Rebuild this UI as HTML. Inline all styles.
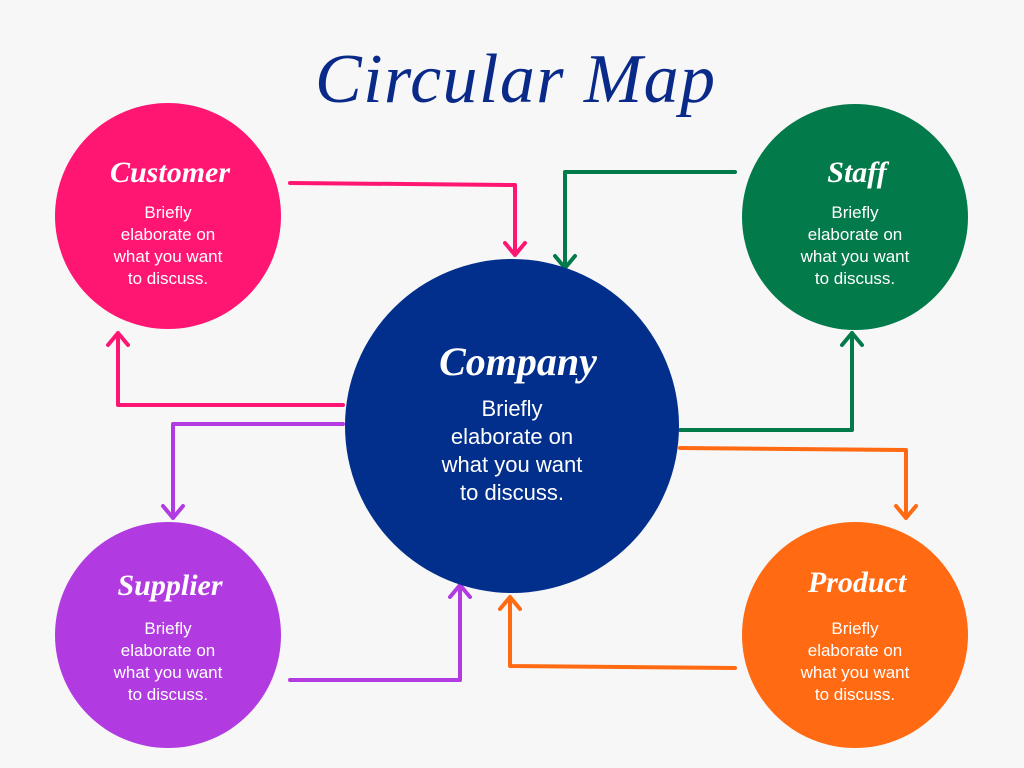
<!DOCTYPE html>
<html><head><style>
body{margin:0;background:#f7f7f7;}
svg{display:block}
.t{font-family:"Liberation Serif",serif;font-style:italic;font-weight:bold;fill:#fff;text-anchor:middle}
.b{font-family:"Liberation Sans",sans-serif;fill:#fff;text-anchor:middle}
</style></head><body>
<svg width="1024" height="768" viewBox="0 0 1024 768">
<rect width="1024" height="768" fill="#f7f7f7"/>
<text x="515" y="102" font-family="Liberation Serif,serif" font-style="italic" font-size="70" fill="#0a2a8a" text-anchor="middle" textLength="400">Circular Map</text>
<g fill="none" stroke-width="4" stroke-linecap="round" stroke-linejoin="round">
<path d="M290 183 L515 185 L515 255 M505 243 L515 255 L525 243" stroke="#ff1672"/>
<path d="M735 172 L565 172 L565 268 M555 256 L565 268 L575 256" stroke="#037a4a"/>
<path d="M343 405 L118 405 L118 333 M108 345 L118 333 L128 345" stroke="#ff1672"/>
<path d="M343 424 L173 424 L173 518 M163 506 L173 518 L183 506" stroke="#b13be0"/>
<path d="M680 430 L852 430 L852 333 M842 345 L852 333 L862 345" stroke="#037a4a"/>
<path d="M680 448 L906 450 L906 518 M896 506 L906 518 L916 506" stroke="#ff6a12"/>
<path d="M290 680 L460 680 L460 585 M450 597 L460 585 L470 597" stroke="#b13be0"/>
<path d="M735 668 L510 666 L510 597 M500 609 L510 597 L520 609" stroke="#ff6a12"/>
</g>
<circle cx="168" cy="216" r="113" fill="#ff1672"/>
<circle cx="855" cy="217" r="113" fill="#037a4a"/>
<circle cx="168" cy="635" r="113" fill="#b13be0"/>
<circle cx="855" cy="635" r="113" fill="#ff6a12"/>
<circle cx="512" cy="426" r="167" fill="#022e8c"/>
<g class="t" font-size="30">
<text x="170" y="182">Customer</text>
<text x="857" y="182">Staff</text>
<text x="170" y="595">Supplier</text>
<text x="857" y="592">Product</text>
<text x="518" y="375" font-size="40">Company</text>
</g>
<g class="b" font-size="17">
<text x="168" y="218">Briefly</text><text x="168" y="240">elaborate on</text><text x="168" y="262">what you want</text><text x="168" y="284">to discuss.</text>
<text x="855" y="218">Briefly</text><text x="855" y="240">elaborate on</text><text x="855" y="262">what you want</text><text x="855" y="284">to discuss.</text>
<text x="168" y="634">Briefly</text><text x="168" y="656">elaborate on</text><text x="168" y="678">what you want</text><text x="168" y="700">to discuss.</text>
<text x="855" y="634">Briefly</text><text x="855" y="656">elaborate on</text><text x="855" y="678">what you want</text><text x="855" y="700">to discuss.</text>
</g>
<g class="b" font-size="22">
<text x="512" y="416">Briefly</text><text x="512" y="444">elaborate on</text><text x="512" y="472">what you want</text><text x="512" y="500">to discuss.</text>
</g>
</svg>
</body></html>
